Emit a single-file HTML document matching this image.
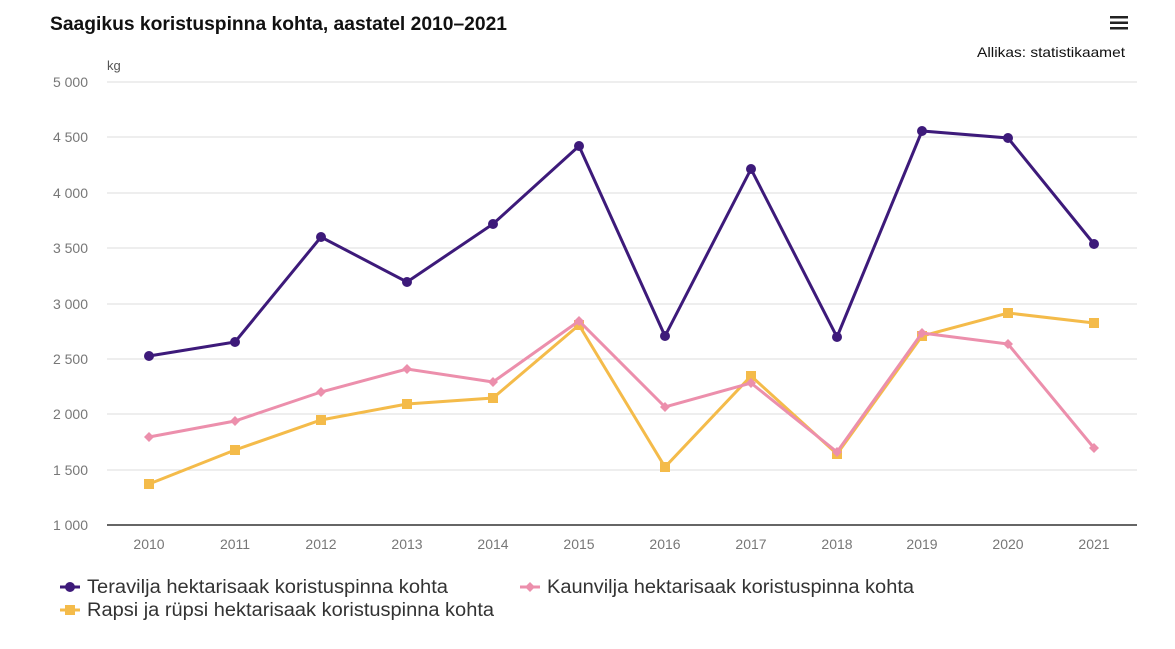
<!DOCTYPE html>
<html><head><meta charset="utf-8"><style>
body{margin:0;background:#fff;}
svg text{font-family:"Liberation Sans",sans-serif;}
</style></head><body>
<svg width="1175" height="644" xmlns="http://www.w3.org/2000/svg">
<rect width="1175" height="644" fill="#fff"/>
<text x="50" y="30" font-size="19" font-weight="bold" fill="#111" textLength="457" lengthAdjust="spacingAndGlyphs">Saagikus koristuspinna kohta, aastatel 2010–2021</text>
<g fill="#222"><rect x="1110" y="16" width="18" height="2.5"/><rect x="1110" y="21.5" width="18" height="2.5"/><rect x="1110" y="27" width="18" height="2.5"/></g>
<text x="1125" y="57" font-size="14" text-anchor="end" fill="#111" textLength="148" lengthAdjust="spacingAndGlyphs">Allikas: statistikaamet</text>
<text x="107" y="70" font-size="13" fill="#555">kg</text>
<g stroke="#ddd" stroke-width="1">
<line x1="107" x2="1137" y1="82" y2="82"/><line x1="107" x2="1137" y1="137" y2="137"/><line x1="107" x2="1137" y1="193" y2="193"/><line x1="107" x2="1137" y1="248" y2="248"/><line x1="107" x2="1137" y1="304" y2="304"/><line x1="107" x2="1137" y1="359" y2="359"/><line x1="107" x2="1137" y1="414" y2="414"/><line x1="107" x2="1137" y1="470" y2="470"/>
</g>
<line x1="107" x2="1137" y1="525" y2="525" stroke="#333" stroke-width="1.5"/>
<g font-size="14" fill="#777" text-anchor="end">
<text x="88" y="87">5 000</text><text x="88" y="142">4 500</text><text x="88" y="198">4 000</text><text x="88" y="253">3 500</text><text x="88" y="309">3 000</text><text x="88" y="364">2 500</text><text x="88" y="419">2 000</text><text x="88" y="475">1 500</text><text x="88" y="530">1 000</text>
</g>
<g font-size="14" fill="#777" text-anchor="middle">
<text x="149" y="549">2010</text><text x="235" y="549">2011</text><text x="321" y="549">2012</text><text x="407" y="549">2013</text><text x="493" y="549">2014</text><text x="579" y="549">2015</text><text x="665" y="549">2016</text><text x="751" y="549">2017</text><text x="837" y="549">2018</text><text x="922" y="549">2019</text><text x="1008" y="549">2020</text><text x="1094" y="549">2021</text>
</g>
<polyline fill="none" stroke="#f4bb4a" stroke-width="3" points="149,484 235,450 321,420 407,404 493,398 579,325 665,467 751,376 837,454 922,336 1008,313 1094,323"/>
<g fill="#f4bb4a">
<rect x="144" y="479" width="10" height="10"/><rect x="230" y="445" width="10" height="10"/><rect x="316" y="415" width="10" height="10"/><rect x="402" y="399" width="10" height="10"/><rect x="488" y="393" width="10" height="10"/><rect x="574" y="320" width="10" height="10"/><rect x="660" y="462" width="10" height="10"/><rect x="746" y="371" width="10" height="10"/><rect x="832" y="449" width="10" height="10"/><rect x="917" y="331" width="10" height="10"/><rect x="1003" y="308" width="10" height="10"/><rect x="1089" y="318" width="10" height="10"/>
</g>
<polyline fill="none" stroke="#ec8fac" stroke-width="3" points="149,437 235,421 321,392 407,369 493,382 579,321 665,407 751,383 837,452 922,333 1008,344 1094,448"/>
<g fill="#ec8fac">
<path d="M149 432l5 5-5 5-5-5z"/><path d="M235 416l5 5-5 5-5-5z"/><path d="M321 387l5 5-5 5-5-5z"/><path d="M407 364l5 5-5 5-5-5z"/><path d="M493 377l5 5-5 5-5-5z"/><path d="M579 316l5 5-5 5-5-5z"/><path d="M665 402l5 5-5 5-5-5z"/><path d="M751 378l5 5-5 5-5-5z"/><path d="M837 447l5 5-5 5-5-5z"/><path d="M922 328l5 5-5 5-5-5z"/><path d="M1008 339l5 5-5 5-5-5z"/><path d="M1094 443l5 5-5 5-5-5z"/>
</g>
<polyline fill="none" stroke="#3d1a7a" stroke-width="3" points="149,356 235,342 321,237 407,282 493,224 579,146 665,336 751,169 837,337 922,131 1008,138 1094,244"/>
<g fill="#3d1a7a">
<circle cx="149" cy="356" r="5"/><circle cx="235" cy="342" r="5"/><circle cx="321" cy="237" r="5"/><circle cx="407" cy="282" r="5"/><circle cx="493" cy="224" r="5"/><circle cx="579" cy="146" r="5"/><circle cx="665" cy="336" r="5"/><circle cx="751" cy="169" r="5"/><circle cx="837" cy="337" r="5"/><circle cx="922" cy="131" r="5"/><circle cx="1008" cy="138" r="5"/><circle cx="1094" cy="244" r="5"/>
</g>
<g font-size="19" fill="#333">
<line x1="60" x2="80" y1="587" y2="587" stroke="#3d1a7a" stroke-width="3"/><circle cx="70" cy="587" r="5" fill="#3d1a7a"/>
<text x="87" y="593" textLength="361" lengthAdjust="spacingAndGlyphs">Teravilja hektarisaak koristuspinna kohta</text>
<line x1="520" x2="540" y1="587" y2="587" stroke="#ec8fac" stroke-width="3"/><path d="M530 582l5 5-5 5-5-5z" fill="#ec8fac"/>
<text x="547" y="593" textLength="367" lengthAdjust="spacingAndGlyphs">Kaunvilja hektarisaak koristuspinna kohta</text>
<line x1="60" x2="80" y1="610" y2="610" stroke="#f4bb4a" stroke-width="3"/><rect x="65" y="605" width="10" height="10" fill="#f4bb4a"/>
<text x="87" y="616" textLength="407" lengthAdjust="spacingAndGlyphs">Rapsi ja rüpsi hektarisaak koristuspinna kohta</text>
</g>
</svg>
</body></html>
